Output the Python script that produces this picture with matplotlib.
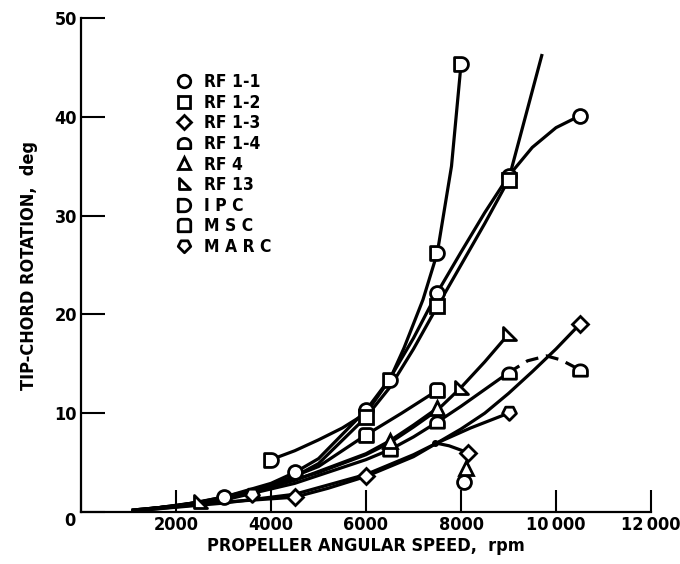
import numpy as np
import matplotlib
matplotlib.use('Agg')
import matplotlib.pyplot as plt
from matplotlib.path import Path
from matplotlib.lines import Line2D

plt.rcParams['font.family'] = ['Liberation Sans Narrow', 'DejaVu Sans']
plt.rcParams['font.stretch'] = 'condensed'
plt.rcParams['font.weight'] = 'bold'

# curves (rpm, deg)
rf11_cx = [1100, 2000, 3000, 4000, 4500, 5000, 6000, 6500, 7000, 7500, 8000, 8500, 9000, 9500, 10000, 10500]
rf11_cy = [0.2, 0.6, 1.5, 2.9, 4.0, 5.4, 10.3, 13.5, 17.6, 22.2, 26.3, 30.3, 34.0, 36.9, 38.9, 40.1]
rf11_mx = [3000, 4500, 6000, 7500, 9000, 10500]
rf11_my = [1.5, 4.0, 10.3, 22.2, 34.0, 40.1]

rf12_cx = [1100, 2000, 3000, 4000, 4500, 5000, 6000, 6500, 7000, 7500, 8000, 8500, 9000, 9300, 9700]
rf12_cy = [0.2, 0.6, 1.3, 2.6, 3.6, 4.9, 9.6, 12.6, 16.5, 20.8, 25.0, 29.2, 33.6, 39.0, 46.2]
rf12_mx = [6000, 7500, 9000]
rf12_my = [9.6, 20.8, 33.6]

ipc_cx = [4000, 4500, 5000, 5500, 6000, 6500, 6800, 7200, 7500, 7800, 8000]
ipc_cy = [5.3, 6.2, 7.3, 8.5, 10.0, 13.4, 16.6, 21.5, 26.2, 35.0, 45.3]
ipc_mx = [4000, 6500, 7500, 8000]
ipc_my = [5.3, 13.4, 26.2, 45.3]

msc_cx = [1100, 2000, 3000, 4000, 5000, 6000, 6750, 7500]
msc_cy = [0.2, 0.6, 1.4, 2.7, 4.6, 7.8, 10.0, 12.3]
msc_mx = [6000, 7500]
msc_my = [7.8, 12.3]

rf13_cx = [1100, 2500, 4000, 5000, 6000, 6500, 7000, 7500, 8000, 8500, 9000]
rf13_cy = [0.1, 1.0, 2.6, 4.0, 5.8, 7.0, 8.6, 10.3, 12.6, 15.2, 18.0]
rf13_mx = [2500, 8000, 9000]
rf13_my = [1.0, 12.6, 18.0]

rf4_cx = [1100, 3000, 4500, 6000, 6500, 7000, 7500]
rf4_cy = [0.1, 1.3, 3.2, 5.9, 7.2, 8.8, 10.5]
rf4_mx = [6500, 7500, 8100]
rf4_my = [7.2, 10.5, 4.5]

rf14_cx = [1100, 3000, 4500, 6000, 6500, 7000, 7500, 8000, 8500, 9000]
rf14_cy = [0.1, 1.2, 2.9, 5.3, 6.3, 7.6, 9.1, 10.7, 12.4, 14.1]
rf14_dx = [9000, 9400, 9800, 10100, 10500]
rf14_dy = [14.1, 15.3, 15.8, 15.4, 14.4]
rf14_mx = [6500, 7500, 9000, 10500]
rf14_my = [6.3, 9.1, 14.1, 14.4]

rf13b_cx = [1100, 3000, 4500, 5200, 6000, 7000, 7500, 8000, 8500, 9000, 9500, 10000, 10500]
rf13b_cy = [0.1, 1.0, 1.5, 2.4, 3.6, 5.6, 7.0, 8.4, 10.0, 12.0, 14.2, 16.5, 19.0]
rf13b_mx = [4500, 6000, 8150, 10500]
rf13b_my = [1.5, 3.6, 6.0, 19.0]

marc_cx = [1100, 3000, 4500, 6000, 7000, 7500, 8200, 9000]
marc_cy = [0.1, 0.9, 1.8, 3.8, 5.8, 7.0, 8.5, 10.0]
marc_mx = [3600, 9000]
marc_my = [1.7, 10.0]

# short branch from the joint at 7500 rpm to the stacked points at ~8150 rpm
branch_x = [7450, 7750, 8150]
branch_y = [7.0, 6.7, 6.0]
extra_circle_x = [8060]
extra_circle_y = [3.0]

labels = ['RF 1-1', 'RF 1-2', 'RF 1-3', 'RF 1-4', 'RF 4', 'RF 13', 'I P C', 'M S C', 'M A R C']


def closed(verts):
    verts = list(verts) + [verts[0]]
    codes = [Path.MOVETO] + [Path.LINETO] * (len(verts) - 2) + [Path.CLOSEPOLY]
    return Path(verts, codes)


a = np.linspace(np.pi / 2, -np.pi / 2, 15)
d_marker = closed([(-0.5, -0.5), (-0.5, 0.5)] + [(0.5 * np.cos(t), 0.5 * np.sin(t)) for t in a])
a = np.linspace(0, np.pi, 15)
house_marker = closed([(-0.55, -0.45), (0.55, -0.45)] + [(0.55 * np.cos(t), -0.05 + 0.5 * np.sin(t)) for t in a])
a = np.linspace(0, np.pi / 2, 6)
msc_marker = closed([(-0.5, -0.5), (0.5, -0.5)]
                    + [(0.25 + 0.25 * np.cos(t), 0.25 + 0.25 * np.sin(t)) for t in a]
                    + [(-0.25 - 0.25 * np.sin(t), 0.25 + 0.25 * np.cos(t)) for t in a])
rtri_marker = closed([(-0.45, 0.55), (-0.45, -0.45), (0.55, -0.45)])
marc_marker = closed([(0, -0.55), (0.55, 0.0), (0.3, 0.5), (-0.3, 0.5), (-0.55, 0.0)])

mk = dict(markerfacecolor='white', markeredgecolor='black', markeredgewidth=2.0, markersize=10,
          linestyle='none', clip_on=False, zorder=4)
lw = 2.3

fig = plt.figure(figsize=(6.8, 5.64), dpi=100)
ax = fig.add_axes([81 / 680, 52 / 564, 570 / 680, 494 / 564])

for cx, cy in [(rf11_cx, rf11_cy), (rf12_cx, rf12_cy), (ipc_cx, ipc_cy), (msc_cx, msc_cy),
               (rf13_cx, rf13_cy), (rf4_cx, rf4_cy), (rf14_cx, rf14_cy), (rf13b_cx, rf13b_cy),
               (marc_cx, marc_cy), (branch_x, branch_y)]:
    ax.plot(cx, cy, color='black', lw=lw, clip_on=False, zorder=3)
ax.plot(rf14_dx, rf14_dy, color='black', lw=lw, dashes=(4, 2.5), zorder=3)
ax.plot([7450], [7.0], 'o', color='black', markersize=4, zorder=4)

ax.plot(rf11_mx, rf11_my, marker='o', **mk)
ax.plot(extra_circle_x, extra_circle_y, marker='o', **mk)
ax.plot(rf12_mx, rf12_my, marker='s', **mk)
ax.plot(rf13b_mx, rf13b_my, marker='D', **dict(mk, markersize=8))
ax.plot(rf14_mx, rf14_my, marker=house_marker, **mk)
ax.plot(rf4_mx, rf4_my, marker='^', **mk)
ax.plot(rf13_mx, rf13_my, marker=rtri_marker, **mk)
ax.plot(ipc_mx, ipc_my, marker=d_marker, **mk)
ax.plot(msc_mx, msc_my, marker=msc_marker, **mk)
ax.plot(marc_mx, marc_my, marker=marc_marker, **mk)

handles = []
for m in ['o', 's', 'D', house_marker, '^', rtri_marker, d_marker, msc_marker, marc_marker]:
    handles.append(Line2D([], [], marker=m, markerfacecolor='white', markeredgecolor='black',
                          markeredgewidth=2.0, markersize=9 if m != 'D' else 7, linestyle='none'))
ax.legend(handles, labels, loc='upper left', bbox_to_anchor=(0.135, 0.92), frameon=False,
          handletextpad=0.55, labelspacing=0.15, fontsize=12.5, handlelength=1.2)

ax.set_xlim(0, 12000)
ax.set_ylim(0, 50)
ax.set_xticks([0, 2000, 4000, 6000, 8000, 10000, 12000])
ax.set_xticklabels(['', '2000', '4000', '6000', '8000', '10\u2009000', '12\u2009000'])
ax.set_yticks([0, 10, 20, 30, 40, 50])
ax.set_yticklabels(['', '10', '20', '30', '40', '50'])
ax.tick_params(axis='x', direction='in', length=16, width=1.5, labelsize=13, pad=3)
ax.tick_params(axis='y', direction='in', length=17, width=1.5, labelsize=13, pad=3)
ax.text(-230, -0.9, '0', ha='center', va='center', fontsize=13, fontweight='bold')

ax.spines['top'].set_visible(False)
ax.spines['right'].set_visible(False)
ax.spines['left'].set_linewidth(1.6)
ax.spines['bottom'].set_linewidth(1.6)

ax.set_xlabel('PROPELLER ANGULAR SPEED,  rpm', fontsize=13, fontweight='bold', labelpad=2)
ax.set_ylabel('TIP-CHORD ROTATION,  deg', fontsize=13, fontweight='bold', labelpad=12)

fig.savefig('out.png', dpi=100)
